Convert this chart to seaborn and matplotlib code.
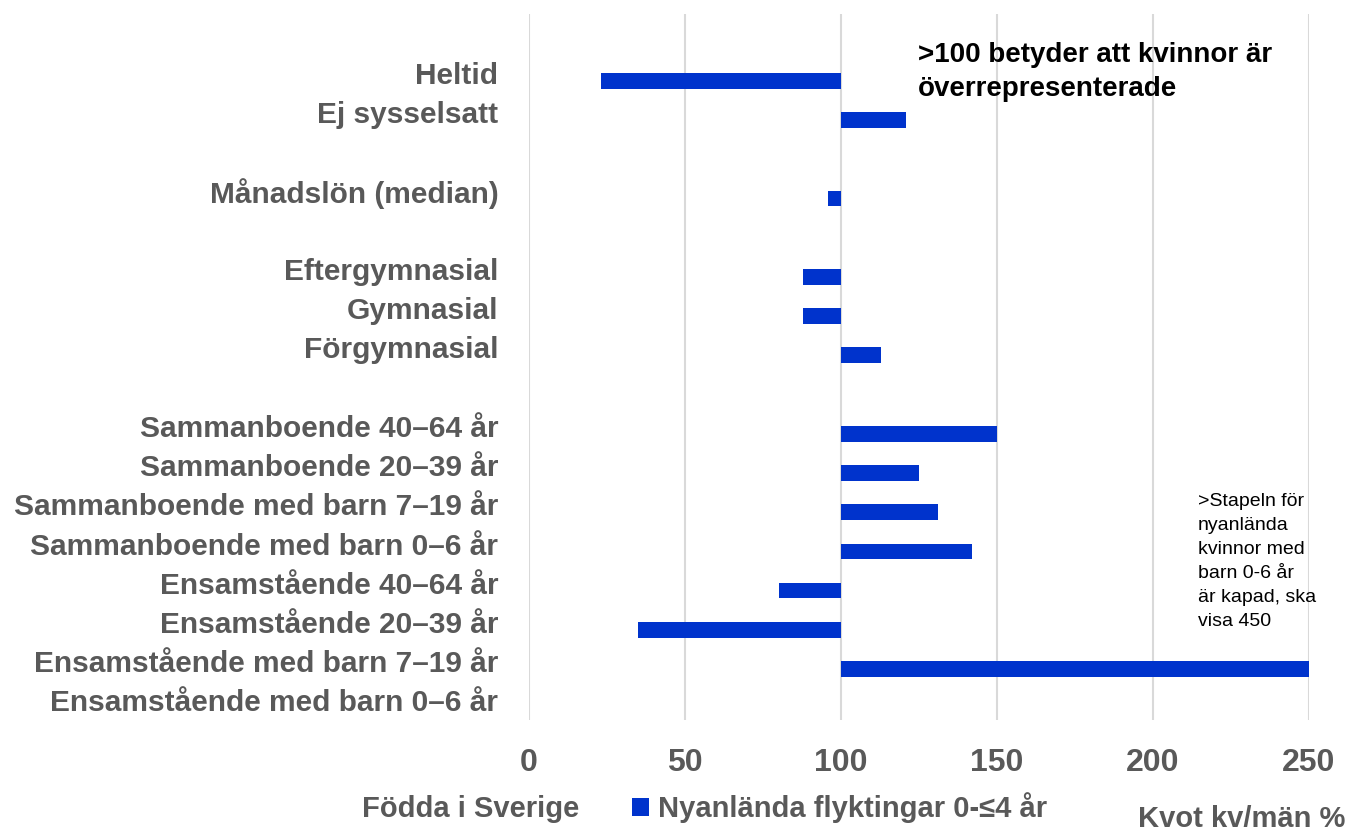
import matplotlib
matplotlib.use("Agg")
import matplotlib.pyplot as plt
import matplotlib.ticker as mticker
import pandas as pd
import seaborn as sns

# kategorier uppifrån och ned, tomma strängar = luft mellan grupperna
kategorier = [
    " ",
    "Heltid",
    "Ej sysselsatt",
    "  ",
    "Månadslön (median)",
    "   ",
    "Eftergymnasial",
    "Gymnasial",
    "Förgymnasial",
    "    ",
    "Sammanboende 40–64 år",
    "Sammanboende 20–39 år",
    "Sammanboende med barn 7–19 år",
    "Sammanboende med barn 0–6 år",
    "Ensamstående 40–64 år",
    "Ensamstående 20–39 år",
    "Ensamstående med barn 7–19 år",
    "Ensamstående med barn 0–6 år",
]

# kvot kvinnor/män (%) per kategori med data
data_kategorier = [
    "Heltid", "Ej sysselsatt", "Månadslön (median)",
    "Eftergymnasial", "Gymnasial", "Förgymnasial",
    "Sammanboende 40–64 år", "Sammanboende 20–39 år",
    "Sammanboende med barn 7–19 år", "Sammanboende med barn 0–6 år",
    "Ensamstående 40–64 år", "Ensamstående 20–39 år",
    "Ensamstående med barn 7–19 år", "Ensamstående med barn 0–6 år",
]
fodda_sverige = [100, 100, 100, 100, 100, 100, 100, 100, 100, 100, 100, 100, 100, 100]
nyanlanda = [23, 121, 96, 88, 88, 113, 150, 125, 131, 142, 80, 35, 450, 100]

serier = ["Födda i Sverige", "Nyanlända flyktingar 0-≤4 år"]
farger = {serier[0]: "white", serier[1]: "#0033CC"}
xticks = [0, 50, 100, 150, 200, 250]
bas = 100  # staplarna utgår från 100

df = pd.DataFrame({
    "kategori": data_kategorier * 2,
    "serie": [serier[0]] * len(data_kategorier) + [serier[1]] * len(data_kategorier),
    "kvot": fodda_sverige + nyanlanda,
})
df["diff"] = df["kvot"] - bas

sns.set_theme(style="white")
plt.rcParams["font.family"] = ["Liberation Sans", "DejaVu Sans"]
grey = "#595959"

fig, ax = plt.subplots(figsize=(13.48, 8.33), dpi=100)
fig.subplots_adjust(left=0.3924, right=0.971, top=0.983, bottom=0.1357)

sns.barplot(data=df, x="diff", y="kategori", hue="serie", order=kategorier,
            hue_order=serier, palette=farger, saturation=1, width=0.8,
            orient="h", linewidth=0, ax=ax, legend=True)

ax.set_xlim(xticks[0] - bas, xticks[-1] - bas)
ax.set_xticks([t - bas for t in xticks])
ax.xaxis.set_major_formatter(mticker.FuncFormatter(lambda v, p: f"{v + bas:.0f}"))
ax.grid(axis="x", color="#D9D9D9", linewidth=1.5)
ax.set_axisbelow(True)
for s in ax.spines.values():
    s.set_visible(False)
ax.tick_params(axis="both", length=0)
ax.tick_params(axis="y", pad=22, labelsize=21.5, labelcolor=grey)
ax.tick_params(axis="x", pad=20, labelsize=23, labelcolor=grey)
for lab in ax.get_yticklabels() + ax.get_xticklabels():
    lab.set_fontweight("bold")
ax.set_xlabel("")
ax.set_ylabel("")

handles, labels = ax.get_legend_handles_labels()
ax.get_legend().remove()
fig.legend(handles, labels, loc="center", bbox_to_anchor=(0.513, 0.030), ncol=2,
           frameon=False, prop={"size": 21, "weight": "bold"}, labelcolor=grey,
           handlelength=0.6, handleheight=0.6, handletextpad=0.3, columnspacing=1.8)

fig.text(0.998, 0.034, "Kvot kv/män %", ha="right", va="top", fontsize=21,
         fontweight="bold", color=grey)

ax.text(0.499, 0.961, ">100 betyder att kvinnor är\növerrepresenterade",
        transform=ax.transAxes, ha="left", va="top", fontsize=20,
        fontweight="bold", color="black", linespacing=1.4)
ax.text(0.858, 0.322, ">Stapeln för\nnyanlända\nkvinnor med\nbarn 0-6 år\när kapad, ska\nvisa 450",
        transform=ax.transAxes, ha="left", va="top", fontsize=14,
        color="black", linespacing=1.55)

fig.savefig("out.png", dpi=100)
